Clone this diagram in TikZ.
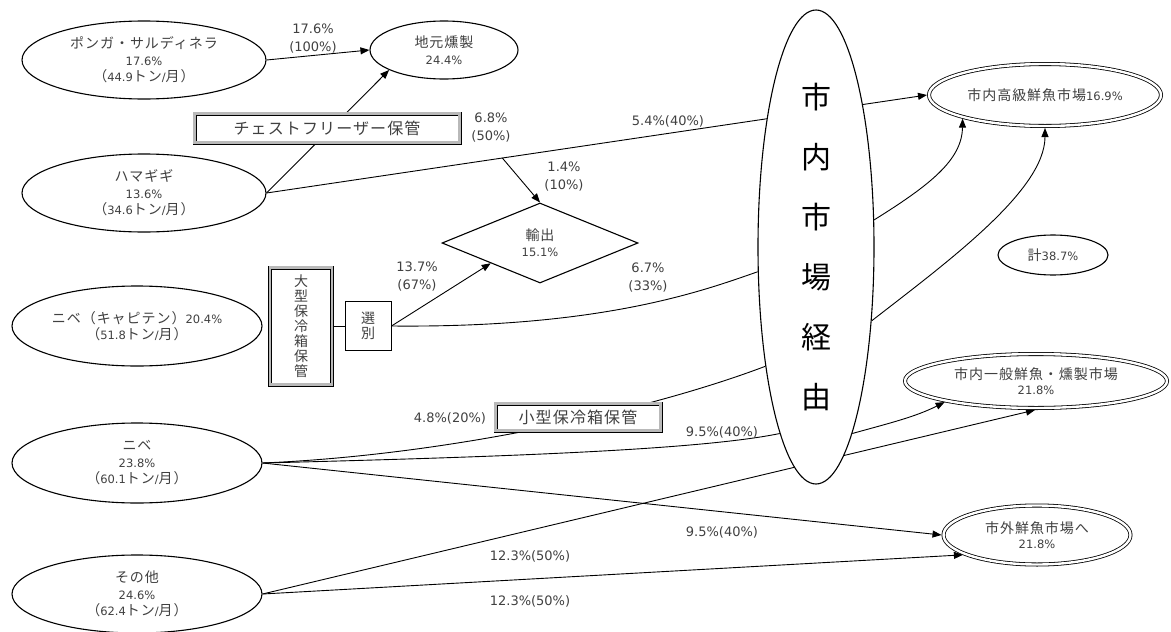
\documentclass[tikz,border=0pt]{standalone}
\usepackage{fontspec}
\setmainfont{DejaVu Sans}
\newfontfamily\jpf[LetterSpace=7]{Noto Sans CJK JP}
\newfontfamily\jpbig{Noto Sans CJK JP}
\usetikzlibrary{shapes.geometric,arrows.meta,calc}
\pgfdeclarelayer{bg}
\pgfsetlayers{bg,main}
\newcommand\J[1]{{\jpf\fontsize{14}{16.5}\selectfont #1}}
\newcommand\JB[1]{{\jpf\fontsize{16}{18}\selectfont #1}}
\begin{document}
\begin{tikzpicture}[x=1pt,y=-1pt,
  src/.style={ellipse, draw, line width=1.1pt, fill=white, inner sep=0pt, align=center,
    font=\fontsize{11.5}{16.5}\selectfont, text=black!75},
  dell/.style={ellipse, draw, double, double distance=2.4pt, line width=0.8pt, fill=white,
    inner sep=0pt, outer sep=2pt, align=center, font=\fontsize{11.5}{15}\selectfont, text=black!75},
  dbox/.style={rectangle, draw, double=gray!55, double distance=2.4pt, line width=0.8pt, fill=white,
    inner sep=0pt, outer sep=2pt, align=center, text=black!75},
  sbox/.style={rectangle, draw, line width=1pt, fill=white, inner sep=0pt, align=center, text=black!75},
  lbl/.style={font=\fontsize{13}{18}\selectfont, align=center, text=black!75, inner sep=0pt},
  conn/.style={line width=0.9pt, draw=black},
  arr/.style={conn, -{Triangle[length=9pt,width=7pt]}}
]
\useasboundingbox (0,0) rectangle (1171,632);

% sources
\node[src, minimum width=244pt, minimum height=78pt] (pong) at (144,60)
  {\J{ポンガ・サルディネラ}\\17.6\%\\\J{（}44.9\J{トン}/\J{月）}};
\node[src, minimum width=244pt, minimum height=78pt] (hama) at (144,193)
  {\J{ハマギギ}\\13.6\%\\\J{（}34.6\J{トン}/\J{月）}};
\node[src, minimum width=250pt, minimum height=80pt] (kyap) at (137,326)
  {\J{ニベ（キャピテン）}20.4\%\\\J{（}51.8\J{トン}/\J{月）}};
\node[src, minimum width=250pt, minimum height=80pt] (nibe) at (137,463)
  {\J{ニベ}\\23.8\%\\\J{（}60.1\J{トン}/\J{月）}};
\node[src, minimum width=250pt, minimum height=78pt] (sonota) at (137,594)
  {\J{その他}\\24.6\%\\\J{（}62.4\J{トン}/\J{月）}};

% intermediate
\node[src, minimum width=148pt, minimum height=58pt] (jimoto) at (444,50) {\J{地元燻製}\\24.4\%};
\node[dbox, minimum width=265pt, minimum height=29pt] (chest) at (327,128) {\JB{チェストフリーザー保管}};
\node[dbox, minimum width=62pt, minimum height=117pt, font=\jpbig\fontsize{14}{15}\selectfont] (ogata) at (301,326)
  {大\\型\\保\\冷\\箱\\保\\管};
\node[sbox, minimum width=46pt, minimum height=49pt, font=\jpbig\fontsize{14}{15}\selectfont] (sen) at (368,326) {選\\別};
\node[diamond, draw, line width=1.1pt, fill=white, inner sep=0pt, minimum width=196pt, minimum height=80pt,
  aspect=2.45, align=center, font=\fontsize{11.5}{16}\selectfont, text=black!75] (yu) at (540,243) {\J{輸出}\\15.1\%};
\node[dbox, minimum width=165pt, minimum height=27pt] (kogata) at (578,417) {\JB{小型保冷箱保管}};
\node[ellipse, draw, line width=1.1pt, fill=white, inner sep=0pt, minimum width=116pt, minimum height=474pt,
  align=center, font=\jpbig\fontsize{30}{60}\selectfont] (big) at (816,247) {市\\内\\市\\場\\経\\由};

% destinations
\node[dell, minimum width=232pt, minimum height=62pt] (kou) at (1045,95) {\J{市内高級鮮魚市場}16.9\%};
\node[src, minimum width=110pt, minimum height=40pt] (kei) at (1053,255) {\J{計}38.7\%};
\node[dell, minimum width=262pt, minimum height=54pt] (ippan) at (1036,381) {\J{市内一般鮮魚・燻製市場}\\21.8\%};
\node[dell, minimum width=187pt, minimum height=59pt] (shigai) at (1037,535) {\J{市外鮮魚市場へ}\\21.8\%};

% labels
\node[lbl] (l1) at (313,39) {17.6\%\\(100\%)};
\node[lbl] (l2) at (491,128) {6.8\%\\(50\%)};
\node[lbl] (l3) at (668,121) {5.4\%(40\%)};
\node[lbl] (l4) at (564,177) {1.4\%\\(10\%)};
\node[lbl] (l5) at (417,277) {13.7\%\\(67\%)};
\node[lbl] (l6) at (648,278) {6.7\%\\(33\%)};
\node[lbl] (l7) at (450,418) {4.8\%(20\%)};
\node[lbl] (l8) at (722,432) {9.5\%(40\%)};
\node[lbl] (l9) at (722,532) {9.5\%(40\%)};
\node[lbl] (l10) at (530,556) {12.3\%(50\%)};
\node[lbl] (l11) at (530,601) {12.3\%(50\%)};

\begin{pgfonlayer}{bg}
\draw[arr] (pong.east) -- (jimoto.west);
\draw[arr] (hama.east) -- (jimoto.200);
\draw[arr] (hama.east) -- (kou.west);
\coordinate (br) at ($(hama.east)!0.357!(kou.west)$);
\draw[arr] (br) -- (yu.north);
\draw[conn] (ogata.east) -- (sen.west);
\draw[arr] (sen.east) -- (yu.south west);
\draw[conn] (sen.east) .. controls (600,328) and (700,292) .. (big.203);
\draw[arr] (big.25) .. controls (930,185) and (962,160) .. (kou.196);
\draw[conn] (nibe.east) .. controls (450,455) and (650,410) .. (big.247);
\draw[arr] (big.307) .. controls (950,260) and (1045,190) .. (kou.south);
\draw[conn] (nibe.east) .. controls (500,457) and (700,450) .. (big.259);
\draw[arr] (big.281) .. controls (890,423) and (915,417) .. (ippan.193);
\draw[arr] (nibe.east) -- (shigai.west);
\draw[arr] (sonota.east) -- (ippan.268);
\draw[arr] (sonota.east) -- (shigai.195);
\end{pgfonlayer}
\end{tikzpicture}
\end{document}
